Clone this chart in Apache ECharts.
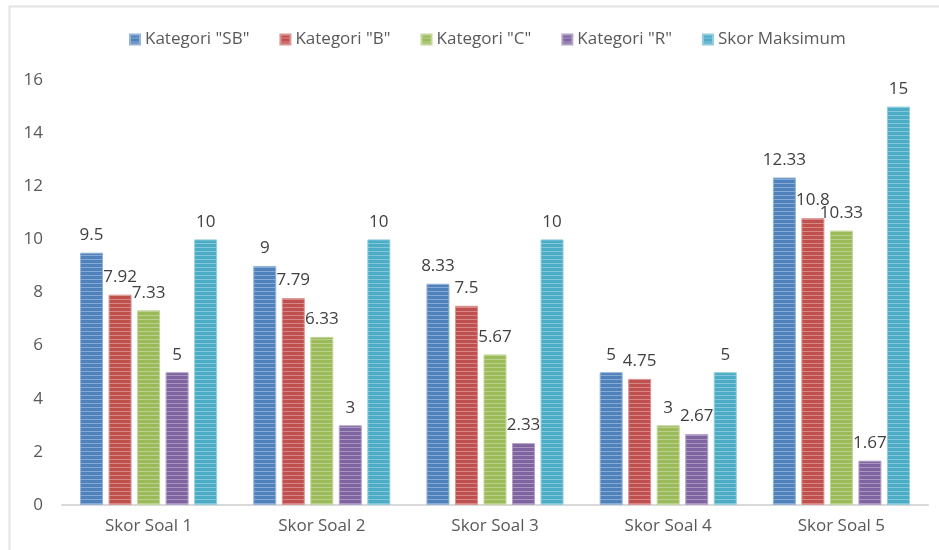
<!DOCTYPE html>
<html>
<head>
<meta charset="utf-8">
<script src="https://cdn.jsdelivr.net/npm/echarts@6/dist/echarts.min.js"></script>
<style>html,body{margin:0;padding:0;background:#fff;}#c{width:939px;height:550px;}</style>
</head>
<body>
<div id="c"></div>
<script>
const categories = ['Skor Soal 1', 'Skor Soal 2', 'Skor Soal 3', 'Skor Soal 4', 'Skor Soal 5'];
const seriesNames = ['Kategori "SB"', 'Kategori "B"', 'Kategori "C"', 'Kategori "R"', 'Skor Maksimum'];
const valuesSB = [9.5, 9, 8.33, 5, 12.33];
const valuesB = [7.92, 7.79, 7.5, 4.75, 10.8];
const valuesC = [7.33, 6.33, 5.67, 3, 10.33];
const valuesR = [5, 3, 2.33, 2.67, 1.67];
const valuesMax = [10, 10, 10, 5, 15];
const yTicks = [0, 2, 4, 6, 8, 10, 12, 14, 16];

const allValues = [valuesSB, valuesB, valuesC, valuesR, valuesMax];
const colors = ['#4f81bd', '#c0504d', '#9bbb59', '#8064a2', '#4bacc6'];
const lights = ['#95b3d7', '#d99694', '#c3d69b', '#b3a2c7', '#93cddd'];

function stripePattern(base, light) {
  const cv = document.createElement('canvas');
  cv.width = 4; cv.height = 4;
  const ctx = cv.getContext('2d');
  ctx.fillStyle = base; ctx.fillRect(0, 0, 4, 4);
  ctx.fillStyle = light; ctx.globalAlpha = 0.8; ctx.fillRect(0, 3, 4, 1);
  return { image: cv, repeat: 'repeat' };
}

const chart = echarts.init(document.getElementById('c'), null, { renderer: 'canvas' });
const font = '"Open Sans", "Liberation Sans", sans-serif';

chart.setOption({
  animation: false,
  textStyle: { fontFamily: font },
  graphic: [{
    type: 'rect', shape: { x: 9.5, y: 6.5, width: 960, height: 600 },
    style: { fill: 'none', stroke: '#e3e3e3', lineWidth: 2 }, silent: true, z: -1
  }],
  legend: {
    top: 26, left: 124, itemWidth: 10, itemHeight: 10, itemGap: 30,
    icon: 'rect',
    textStyle: { color: '#595959', fontSize: 17, fontFamily: font },
    data: seriesNames
  },
  grid: { left: 62, right: 11, top: 80, bottom: 45 },
  xAxis: {
    type: 'category', data: categories,
    axisLine: { lineStyle: { color: '#d9d9d9', width: 2 } },
    axisTick: { show: false },
    axisLabel: { color: '#595959', fontSize: 17, margin: 13, fontFamily: font }
  },
  yAxis: {
    type: 'value', min: yTicks[0], max: yTicks[yTicks.length - 1], interval: 2,
    axisLine: { show: false }, axisTick: { show: false }, splitLine: { show: false },
    axisLabel: { color: '#595959', fontSize: 17, margin: 19, fontFamily: font }
  },
  series: seriesNames.map((name, i) => ({
    name, type: 'bar', data: allValues[i],
    barWidth: 23, barGap: '24%',
    itemStyle: { color: stripePattern(colors[i], lights[i]), borderColor: lights[i], borderWidth: 1 },
    label: { show: true, position: 'top', distance: 9, color: '#404040', fontSize: 17, fontFamily: font }
  })),
  color: colors
});
</script>
</body>
</html>
